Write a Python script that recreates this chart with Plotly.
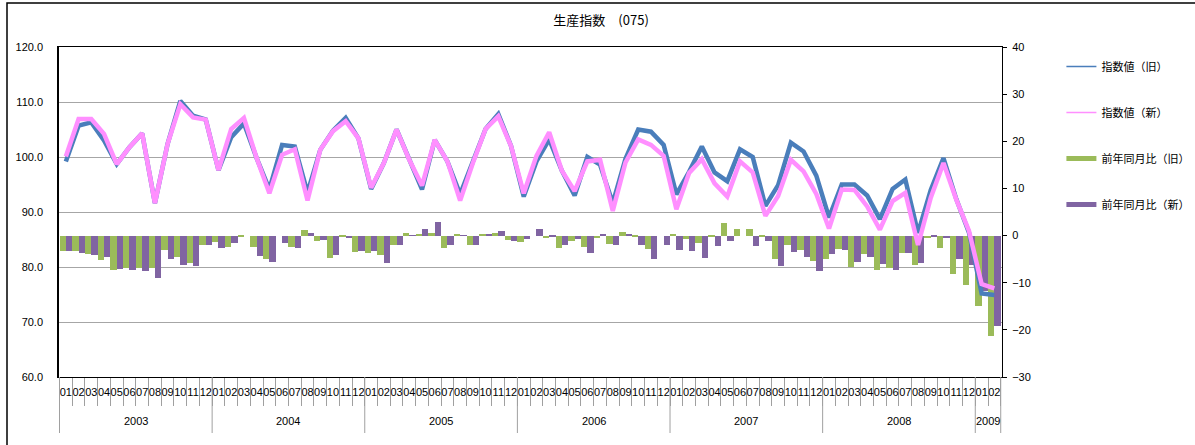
import plotly.graph_objects as go

# ---------------- data ----------------
year_names = ["2003", "2004", "2005", "2006", "2007", "2008", "2009"]
months_in_year = [12, 12, 12, 12, 12, 12, 2]
month_names = ["01", "02", "03", "04", "05", "06", "07", "08", "09", "10", "11", "12"]

index_old = [
    99.2, 105.7, 106.3, 103.0, 98.7, 101.8, 104.3, 91.6, 102.4, 110.2, 107.5, 106.8,
    97.6, 103.6, 106.1, 99.8, 94.1, 102.2, 101.9, 93.5, 101.3, 104.8, 107.1, 103.4,
    94.2, 98.9, 105.0, 99.5, 94.1, 103.1, 99.2, 93.2, 98.9, 105.1, 107.8, 102.0,
    92.8, 99.2, 103.2, 97.5, 93.0, 100.0, 98.6, 91.6, 99.7, 105.0, 104.6, 102.2,
    93.2, 97.3, 101.9, 97.2, 95.6, 101.4, 100.0, 91.1, 94.9, 102.6, 101.0, 96.6,
    89.0, 95.0, 95.0, 93.0, 88.7, 94.2, 95.9, 86.2, 94.0, 99.8, 92.4, 86.3,
    75.2, 74.9,
]
index_new = [
    100.1, 106.9, 106.9, 104.2, 98.7, 101.8, 104.3, 91.6, 102.4, 109.6, 107.2, 106.8,
    97.6, 105.1, 107.1, 99.8, 93.4, 100.4, 101.4, 92.1, 101.3, 104.7, 106.5, 103.4,
    94.4, 98.9, 105.0, 99.5, 94.8, 103.1, 99.2, 92.1, 98.9, 105.1, 107.4, 102.0,
    93.4, 100.2, 104.5, 97.5, 93.8, 99.2, 99.5, 90.2, 99.0, 103.2, 102.2, 100.2,
    90.5, 97.1, 99.6, 95.2, 92.8, 99.2, 97.2, 89.3, 92.9, 99.5, 97.4, 93.3,
    87.0, 94.1, 94.0, 91.0, 86.8, 92.0, 93.5, 84.0, 92.6, 98.9, 92.3, 86.6,
    76.9, 76.1,
]
yoy_old = [
    -3.2, -3.2, -4.0, -5.1, -7.4, -6.9, -6.9, -6.9, -3.0, -4.5, -5.9, -2.1,
    -1.4, -2.4, -0.1, -2.4, -5.0, 0.0, -2.4, 1.2, -1.2, -4.7, -0.4, -3.5,
    -3.6, -4.1, -1.9, 0.6, 0.4, 0.6, -2.6, 0.3, -2.1, 0.2, 0.6, -1.0,
    -1.3, 0.0, -0.6, -2.6, -1.1, -2.4, -0.6, -1.8, 0.8, -0.1, -2.8, 0.0,
    0.4, -0.8, -1.5, -0.3, 2.7, 1.4, 1.5, -0.1, -5.0, -2.0, -3.1, -5.4,
    -5.0, -2.9, -6.6, -4.0, -7.2, -6.9, -3.8, -6.3, -0.5, -2.7, -8.2, -10.5,
    -14.9, -21.3,
]
yoy_new = [
    -3.2, -3.8, -4.2, -4.6, -7.1, -7.2, -7.6, -9.0, -5.0, -6.3, -6.5, -2.1,
    -2.6, -1.6, 0.0, -4.4, -5.5, -1.6, -2.6, 0.5, -1.0, -4.2, -0.6, -3.2,
    -3.3, -5.9, -1.9, 0.1, 1.4, 2.8, -2.1, 0.1, -2.1, 0.4, 1.0, -1.2,
    -0.8, 1.4, -0.4, -2.1, -0.7, -3.8, 0.4, -1.9, 0.2, -1.9, -5.0, -1.9,
    -3.0, -3.2, -4.7, -2.3, -1.1, 0.0, -2.3, -1.1, -6.5, -3.4, -4.6, -7.5,
    -4.0, -3.0, -5.5, -4.5, -6.1, -7.3, -3.8, -5.9, -0.3, -0.6, -4.9, -6.2,
    -11.8, -19.2,
]

names = ["指数値（旧）", "指数値（新）", "前年同月比（旧）", "前年同月比（新）"]
colors = ["#4A7EBB", "#FF8FFF", "#9BBB59", "#8064A2"]

# category x (unique keys), month tick text, year group labels
x_cat, x_month = [], []
for y, n in zip(year_names, months_in_year):
    for m in month_names[:n]:
        x_cat.append(f"{y}-{m}")
        x_month.append(m)

FONT = "Noto Sans CJK JP"
NUMFONT = "Liberation Sans"

fig = go.Figure()
fig.add_trace(go.Bar(x=x_cat, y=yoy_old, name=names[2], marker=dict(color=colors[2], line=dict(width=0)),
                     yaxis="y", showlegend=False))
fig.add_trace(go.Bar(x=x_cat, y=yoy_new, name=names[3], marker=dict(color=colors[3], line=dict(width=0)),
                     yaxis="y", showlegend=False))
fig.add_trace(go.Scatter(x=x_cat, y=index_old, name=names[0], mode="lines",
                         line=dict(color=colors[0], width=4.5), yaxis="y2", showlegend=False))
fig.add_trace(go.Scatter(x=x_cat, y=index_new, name=names[1], mode="lines",
                         line=dict(color=colors[1], width=4.5), yaxis="y2", showlegend=False))

leg_widths = [1.5, 1.5, 5, 5]
for nm, c, w in zip(names, colors, leg_widths):
    fig.add_trace(go.Scatter(x=[None], y=[None], name=nm, mode="lines", legendgroup=nm,
                             line=dict(color=c, width=w), xaxis="x2", yaxis="y3", showlegend=True))

# year group separators and labels (positions derived from the month counts)
shapes, annotations = [], []
start = 0
bounds = [0]
for y, n in zip(year_names, months_in_year):
    annotations.append(dict(x=start + (n - 1) / 2, xref="x", y=-44 / 330, yref="paper",
                            text=y, showarrow=False, xanchor="center", yanchor="middle",
                            font=dict(family=NUMFONT, size=11, color="#000")))
    start += n
    bounds.append(start)
for b in bounds:
    shapes.append(dict(type="line", xref="x", x0=b - 0.5, x1=b - 0.5, yref="paper", y0=0, y1=-56 / 330,
                       line=dict(color="#A0A0A0", width=1), layer="above"))
shapes.append(dict(type="rect", xref="paper", yref="paper",
                   x0=(7 - 59) / 943, x1=1.3, y0=(377 - 3) / 330, y1=-0.4,
                   line=dict(color="#000", width=1.5), fillcolor="rgba(0,0,0,0)", layer="above"))

fig.update_layout(
    template="none",
    width=1195, height=445,
    margin=dict(l=59, r=193, t=47, b=68, autoexpand=False),
    paper_bgcolor="white", plot_bgcolor="white",
    font=dict(family=FONT, size=11, color="#000"),
    title=dict(text="生産指数　(075)", x=0.503, xref="container", xanchor="center",
               y=0.955, yref="container", yanchor="middle",
               font=dict(family=FONT, size=13, color="#000")),
    barmode="group", bargap=0, bargroupgap=0,
    legend=dict(x=1.063, xanchor="left", y=0.985, yanchor="top",
                bgcolor="rgba(0,0,0,0)", borderwidth=0,
                tracegroupgap=27, itemwidth=30,
                font=dict(family=FONT, size=11, color="#000")),
    xaxis=dict(type="category", showline=True, linecolor="#000", linewidth=1, mirror=True,
               tickmode="array", tickvals=x_cat, ticktext=x_month,
               ticks="outside", tickson="boundaries", ticklen=28, tickcolor="#A0A0A0", tickwidth=1,
               tickangle=0, ticklabelstandoff=5,
               showgrid=False, zeroline=False, automargin=False,
               tickfont=dict(family=NUMFONT, size=11, color="#000")),
    xaxis2=dict(overlaying="x", visible=False, range=[0, 1]),
    yaxis3=dict(overlaying="y", visible=False, range=[0, 1]),
    yaxis=dict(side="right", range=[-30, 40], dtick=10, tick0=0,
               ticks="outside", ticklen=4, tickcolor="#000", tickwidth=1,
               showgrid=False, zeroline=False, showline=True, linecolor="#000", linewidth=1,
               automargin=False, ticklabelstandoff=3,
               tickfont=dict(family=NUMFONT, size=11, color="#000")),
    yaxis2=dict(overlaying="y", side="left", range=[60, 120], dtick=10, tick0=60,
                tickformat=".1f", ticks="", showgrid=True, gridcolor="#A6A6A6", gridwidth=1,
                zeroline=False, showline=True, linecolor="#000", linewidth=1.5,
                automargin=False, ticklabelstandoff=12,
                tickfont=dict(family=NUMFONT, size=11, color="#000")),
    shapes=shapes,
    annotations=annotations,
)

fig.write_html("out.html", config={"displayModeBar": False},
               post_script="document.body.style.margin='0';")
